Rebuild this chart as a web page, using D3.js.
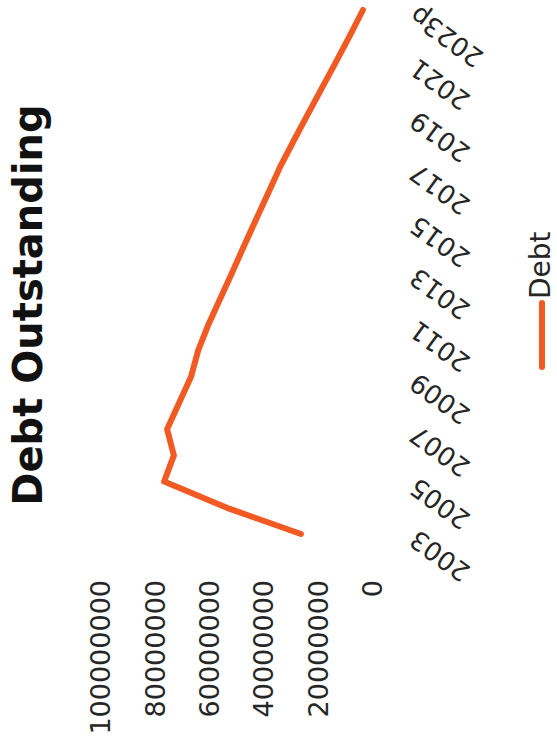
<!DOCTYPE html>
<html>
<head>
<meta charset="utf-8">
<script src="https://cdn.jsdelivr.net/npm/d3@7"></script>
<style>
  html, body { margin: 0; padding: 0; background: #fff; }
  svg { display: block; }
</style>
</head>
<body>
<svg id="chart" width="557" height="751"></svg>
<script>
// Categories (fiscal years, last one projected)
const years = ["2003", "2004", "2005", "2006", "2007", "2008", "2009", "2010", "2011", "2012",
               "2013", "2014", "2015", "2016", "2017", "2018", "2019", "2020", "2021", "2022", "2023p"];

// Debt outstanding per year
const debt = [26500000, 53700000, 76800000, 73200000, 75700000, 71300000, 66900000, 64300000,
              60500000, 56100000, 51700000, 47400000, 43000000, 38600000, 34200000, 29200000,
              24100000, 18900000, 13700000, 8600000, 3700000];

// Value-axis tick labels
const valueTicks = [0, 20000000, 40000000, 60000000, 80000000, 100000000];

const seriesName = "Debt";
const chartTitle = "Debt Outstanding";

const W = 557, H = 751;
const lineColor = "#f15a22";
const labelFont = "'DejaVu Sans', sans-serif";

const svg = d3.select("#chart");

// The chart is laid out in a landscape frame (H wide, W tall) and turned a quarter-turn.
const g = svg.append("g").attr("transform", `translate(0,${H}) rotate(-90)`);

const x = d3.scalePoint().domain(years).range([217, 741]);
const y = d3.scaleLinear().domain([0, 100000000]).range([373, 101]);

// Value axis
const yAxis = g.append("g")
  .attr("transform", "translate(178,0)")
  .call(d3.axisLeft(y).tickValues(valueTicks).tickFormat(d3.format("d")).tickSize(0).tickPadding(7));
yAxis.select(".domain").remove();
yAxis.selectAll("text")
  .attr("font-family", labelFont)
  .attr("font-size", 27)
  .attr("fill", "#262626");

// Category axis, every other year labelled
const xAxis = g.append("g")
  .attr("transform", `translate(0,${y(0)})`)
  .call(d3.axisBottom(x).tickValues(years.filter((d, i) => i % 2 === 0)).tickSize(0));
xAxis.select(".domain").remove();
xAxis.selectAll("text")
  .attr("y", 0)
  .attr("dy", "0.35em")
  .attr("text-anchor", "end")
  .attr("transform", "translate(-3,40) rotate(-54)")
  .attr("font-family", labelFont)
  .attr("font-size", 26)
  .attr("fill", "#262626");

// Series line
const line = d3.line()
  .x((d, i) => x(years[i]))
  .y(d => y(d));

g.append("path")
  .datum(debt)
  .attr("d", line)
  .attr("fill", "none")
  .attr("stroke", lineColor)
  .attr("stroke-width", 6)
  .attr("stroke-linejoin", "round")
  .attr("stroke-linecap", "round");

// Title
g.append("text")
  .attr("x", 446)
  .attr("y", 42)
  .attr("text-anchor", "middle")
  .attr("font-family", labelFont)
  .attr("font-weight", "bold")
  .attr("font-size", 40)
  .attr("fill", "#111")
  .text(chartTitle);

// Legend
const legend = g.append("g").attr("transform", "translate(384,542)");
legend.append("line")
  .attr("x1", 0).attr("x2", 64)
  .attr("y1", 0).attr("y2", 0)
  .attr("stroke", lineColor)
  .attr("stroke-width", 6)
  .attr("stroke-linecap", "round");
legend.append("text")
  .attr("x", 68)
  .attr("y", -2)
  .attr("dominant-baseline", "central")
  .attr("font-family", labelFont)
  .attr("font-size", 28)
  .attr("fill", "#262626")
  .text(seriesName);
</script>
</body>
</html>
